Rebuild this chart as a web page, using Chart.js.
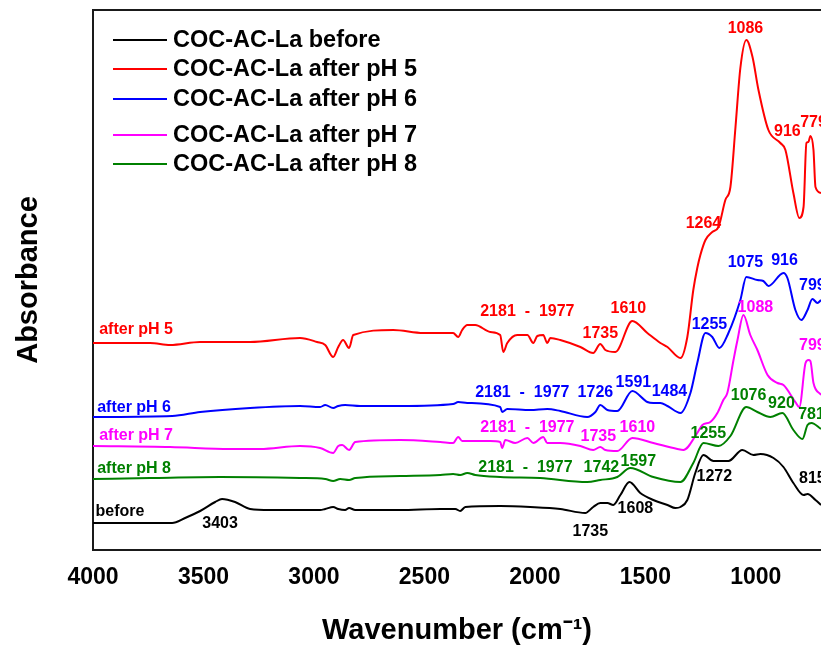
<!DOCTYPE html>
<html>
<head>
<meta charset="utf-8">
<script src="https://cdn.jsdelivr.net/npm/chart.js@4.4.1/dist/chart.umd.min.js"></script>
<style>
  html, body { margin: 0; padding: 0; background: #ffffff; overflow: hidden; }
  #wrap { width: 821px; height: 645px; }
</style>
</head>
<body>
<div id="wrap"><canvas id="c" width="821" height="645"></canvas></div>
<script>
// ---------- DATA (wavenumber in cm-1, absorbance in offset arbitrary units) ----------
const seriesNames = ["COC-AC-La before", "COC-AC-La after pH 5", "COC-AC-La after pH 6", "COC-AC-La after pH 7", "COC-AC-La after pH 8"];
const seriesColors = ["#000000", "#ff0000", "#0000ff", "#ff00ff", "#008000"];

const wnBefore  = [4000,3878,3742,3642,3583,3515,3447,3416,3357,3289,3198,3063,2972,2949,2913,2890,2859,2841,2813,2610,2428,2360,2338,2315,2157,2021,1885,1772,1736,1704,1672,1645,1613,1572,1523,1464,1400,1364,1341,1310,1274,1237,1192,1124,1061,1011,979,920,875,830,784,766,730,705];
const absBefore = [0.27,0.27,0.27,0.27,0.32,0.39,0.48,0.51,0.48,0.41,0.40,0.40,0.40,0.41,0.43,0.41,0.40,0.42,0.40,0.40,0.41,0.41,0.39,0.43,0.44,0.43,0.41,0.37,0.43,0.47,0.47,0.45,0.55,0.68,0.57,0.50,0.45,0.42,0.43,0.50,0.77,0.95,0.89,0.89,1.00,0.95,0.96,0.92,0.83,0.67,0.55,0.56,0.50,0.45];

const wnPH5  = [4000,3742,3651,3515,3289,3063,2986,2949,2913,2890,2868,2841,2822,2641,2505,2370,2347,2329,2306,2270,2202,2157,2143,2125,2080,2034,2007,1989,1962,1944,1930,1885,1794,1736,1704,1681,1636,1559,1491,1432,1400,1341,1310,1283,1265,1251,1228,1197,1169,1138,1115,1092,1070,1043,1015,988,943,889,866,830,803,784,771,762,753,739,730,705];
const absPH5 = [2.07,2.07,2.05,2.08,2.08,2.12,2.08,2.05,1.93,2.03,2.10,2.02,2.15,2.20,2.17,2.17,2.13,2.20,2.25,2.25,2.18,2.15,1.98,2.07,2.15,2.15,2.07,2.14,2.15,2.07,2.12,2.10,2.03,1.97,2.06,2.00,1.98,2.29,2.17,2.07,2.03,1.92,2.13,2.60,2.82,2.95,3.10,3.18,3.23,3.50,3.63,4.23,4.82,5.10,4.93,4.60,4.20,4.07,4.00,3.57,3.32,3.43,4.07,4.08,4.14,4.00,3.63,3.57];

const wnPH6  = [4000,3642,3515,3289,3063,2972,2949,2913,2890,2859,2791,2610,2370,2347,2306,2157,2148,2125,2021,1944,1885,1763,1726,1704,1672,1627,1559,1491,1464,1432,1400,1341,1296,1265,1228,1197,1165,1124,1070,1043,993,966,943,875,857,821,794,766,744,721,705];
const absPH6 = [1.33,1.34,1.38,1.42,1.44,1.43,1.45,1.42,1.44,1.45,1.44,1.44,1.46,1.48,1.47,1.43,1.38,1.41,1.40,1.41,1.39,1.33,1.38,1.45,1.40,1.39,1.59,1.48,1.47,1.47,1.44,1.37,1.57,1.87,2.17,2.13,2.02,2.17,2.50,2.73,2.70,2.69,2.64,2.77,2.72,2.40,2.30,2.40,2.51,2.47,2.50];

const wnPH7  = [4000,3651,3380,3244,3063,2972,2913,2890,2872,2841,2813,2610,2428,2370,2347,2329,2202,2157,2148,2134,2089,2034,2007,1962,1944,1885,1794,1736,1704,1681,1627,1559,1464,1355,1328,1265,1242,1206,1174,1147,1129,1101,1083,1056,1025,993,947,902,875,821,803,775,762,753,739,705];
const absPH7 = [1.04,1.03,1.01,1.01,1.04,1.02,0.97,1.04,1.05,1.00,1.08,1.10,1.08,1.07,1.13,1.09,1.09,1.08,1.02,1.10,1.07,1.12,1.07,1.13,1.07,1.07,1.04,1.00,1.03,1.00,0.99,1.12,1.07,1.01,1.00,1.17,1.25,1.28,1.37,1.50,1.57,1.90,2.10,2.35,2.15,2.00,1.75,1.67,1.65,1.48,1.43,1.87,1.90,1.89,1.67,1.55];

const wnPH8  = [4000,3742,3425,3063,2949,2913,2881,2841,2813,2610,2428,2370,2338,2306,2270,2157,1976,1763,1704,1627,1568,1464,1341,1283,1237,1169,1115,1043,993,934,880,830,789,766,748,705];
const absPH8 = [0.71,0.72,0.73,0.72,0.71,0.69,0.71,0.70,0.72,0.74,0.75,0.76,0.75,0.77,0.75,0.73,0.72,0.68,0.70,0.73,0.82,0.73,0.68,0.87,1.07,1.04,1.14,1.43,1.38,1.33,1.37,1.20,1.11,1.25,1.27,1.21];

const xTickValues = [4000, 3500, 3000, 2500, 2000, 1500, 1000];

// peak annotations: [text, series index, wavenumber, absorbance]
const peakLabels = [
  ["after pH 5", 1, 3805, 2.20], ["2181  -  1977", 1, 2034, 2.38], ["1735", 1, 1704, 2.16], ["1610", 1, 1577, 2.41],
  ["1264", 1, 1237, 3.26], ["1086", 1, 1047, 5.21], ["916", 1, 857, 4.18], ["779", 1, 739, 4.27],
  ["after pH 6", 2, 3814, 1.42], ["2181  -  1977", 2, 2057, 1.57], ["1726", 2, 1726, 1.57], ["1591", 2, 1554, 1.67],
  ["1484", 2, 1391, 1.58], ["1255", 2, 1210, 2.25], ["1075", 2, 1047, 2.87], ["916", 2, 870, 2.89], ["799", 2, 744, 2.64],
  ["after pH 7", 3, 3805, 1.14], ["2181  -  1977", 3, 2034, 1.22], ["1735", 3, 1713, 1.13], ["1610", 3, 1536, 1.22],
  ["1088", 3, 1002, 2.42], ["799", 3, 744, 2.04],
  ["after pH 8", 4, 3814, 0.81], ["2181  -  1977", 4, 2043, 0.82], ["1742", 4, 1699, 0.82], ["1597", 4, 1532, 0.88],
  ["1255", 4, 1215, 1.16], ["1076", 4, 1033, 1.54], ["920", 4, 884, 1.46], ["781", 4, 748, 1.35],
  ["before", 0, 3878, 0.38], ["3403", 0, 3425, 0.26], ["1735", 0, 1749, 0.18], ["1608", 0, 1545, 0.41],
  ["1272", 0, 1188, 0.73], ["815", 0, 744, 0.71]
];

// ---------- CHART ----------
const FONT = "'Liberation Sans', Arial, Helvetica, sans-serif";
const wnSets = [wnBefore, wnPH5, wnPH6, wnPH7, wnPH8];
const absSets = [absBefore, absPH5, absPH6, absPH7, absPH8];
const datasets = wnSets.map((wn, i) => ({
  label: seriesNames[i],
  data: wn.map((w, k) => ({ x: w, y: absSets[i][k] })),
  borderColor: seriesColors[i],
  backgroundColor: seriesColors[i],
  borderWidth: 2,
  pointRadius: 0,
  cubicInterpolationMode: 'monotone',
  fill: false
}));

const framePlugin = {
  id: 'frameTop',
  afterDraw(chart) {
    const { ctx, chartArea } = chart;
    ctx.save();
    ctx.strokeStyle = '#1a1a1a';
    ctx.lineWidth = 2;
    ctx.beginPath();
    ctx.moveTo(chartArea.left - 1, chartArea.top);
    ctx.lineTo(chartArea.right, chartArea.top);
    ctx.stroke();
    ctx.restore();
  }
};

const legendPlugin = {
  id: 'insideLegend',
  afterDraw(chart, args, opts) {
    const { ctx, chartArea } = chart;
    ctx.save();
    ctx.font = 'bold 23.5px ' + FONT;
    ctx.textBaseline = 'middle';
    ctx.textAlign = 'left';
    opts.rows.forEach((dy, i) => {
      const y = chartArea.top + dy;
      const x0 = chartArea.left + 20;
      ctx.strokeStyle = seriesColors[i];
      ctx.lineWidth = 2;
      ctx.beginPath();
      ctx.moveTo(x0, y);
      ctx.lineTo(x0 + 54, y);
      ctx.stroke();
      ctx.fillStyle = '#000000';
      ctx.fillText(seriesNames[i], x0 + 60, y + 1);
    });
    ctx.restore();
  }
};

const peakPlugin = {
  id: 'peakLabels',
  afterDatasetsDraw(chart) {
    const { ctx } = chart;
    const xs = chart.scales.x, ys = chart.scales.y;
    ctx.save();
    ctx.font = 'bold 16px ' + FONT;
    ctx.textAlign = 'center';
    ctx.textBaseline = 'middle';
    peakLabels.forEach(([txt, si, w, v]) => {
      ctx.fillStyle = seriesColors[si];
      ctx.fillText(txt, xs.getPixelForValue(w), ys.getPixelForValue(v));
    });
    ctx.restore();
  }
};

new Chart(document.getElementById('c'), {
  type: 'line',
  data: { datasets },
  plugins: [framePlugin, legendPlugin, peakPlugin],
  options: {
    responsive: false,
    animation: false,
    layout: { padding: { top: 10, right: 0, left: 0, bottom: 0 } },
    plugins: {
      legend: { display: false },
      tooltip: { enabled: false },
      insideLegend: { rows: [30, 59, 89, 125, 154] }
    },
    scales: {
      x: {
        type: 'linear',
        reverse: true,
        min: 705,
        max: 4000,
        afterFit(scale) { scale.height = 95; },
        afterBuildTicks(scale) { scale.ticks = xTickValues.map(v => ({ value: v })); },
        grid: { display: false, drawTicks: false },
        border: { display: true, color: '#1a1a1a', width: 2 },
        ticks: {
          padding: 14,
          color: '#000000',
          font: { family: FONT, size: 23, weight: 'bold' },
          maxRotation: 0,
          autoSkip: false,
          callback: (v) => String(v)
        },
        title: {
          display: true,
          text: 'Wavenumber (cm\u207B\u00B9)',
          color: '#000000',
          font: { family: FONT, size: 29, weight: 'bold', lineHeight: 1.0 },
          padding: { top: 0, bottom: 0 }
        }
      },
      y: {
        type: 'linear',
        min: 0,
        max: 5.4,
        afterFit(scale) { scale.width = 93; },
        grid: { display: false, drawTicks: false },
        border: { display: true, color: '#1a1a1a', width: 2 },
        ticks: { display: false },
        title: {
          display: true,
          text: 'Absorbance',
          color: '#000000',
          font: { family: FONT, size: 29, weight: 'bold', lineHeight: 1.0 },
          padding: { top: 14, bottom: 0 }
        }
      }
    }
  }
});
</script>
</body>
</html>
